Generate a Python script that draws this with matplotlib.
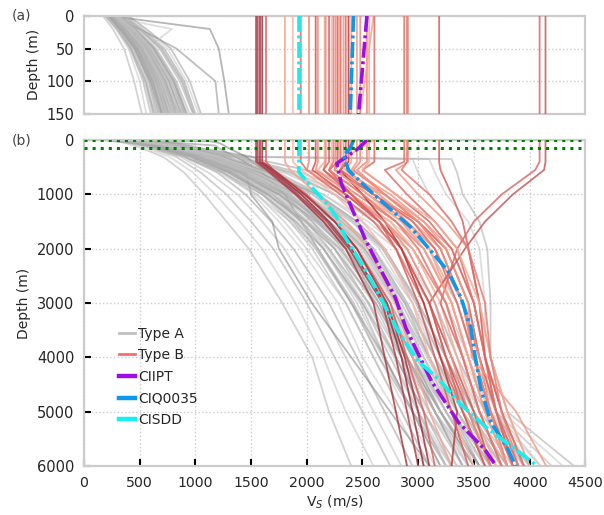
import matplotlib
matplotlib.use("Agg")
import matplotlib.pyplot as plt
from matplotlib.lines import Line2D

# ---------------- data ----------------
# Type A profiles: Vs (m/s) at depths DEPTH_A (m)
DEPTH_A = [0, 20, 50, 100, 150, 300, 350, 600, 1000, 1500, 2000, 3000, 4000, 5000, 6000]
TYPE_A = [
    [170, 260, 360, 450, 520, 700, 740, 900, 1080, 1280, 1480, 1780, 2050, 2200, 2400],
    [190, 290, 400, 500, 560, 760, 800, 980, 1180, 1400, 1600, 1900, 2150, 2350, 2600],
    [200, 310, 420, 530, 600, 820, 860, 1050, 1280, 1500, 1700, 2000, 2250, 2500, 2750],
    [210, 320, 440, 560, 620, 860, 900, 1120, 1380, 1600, 1800, 2100, 2350, 2600, 2850],
    [230, 340, 460, 580, 650, 900, 950, 1200, 1450, 1680, 1880, 2200, 2450, 2700, 2950],
    [220, 330, 470, 600, 700, 950, 1000, 1250, 1520, 1750, 1950, 2280, 2500, 2800, 3050],
    [240, 360, 480, 620, 720, 980, 1030, 1300, 1600, 1850, 2050, 2350, 2600, 2850, 3100],
    [250, 350, 500, 640, 750, 1020, 1070, 1350, 1650, 1900, 2100, 2420, 2650, 2900, 3150],
    [260, 380, 520, 680, 800, 1060, 1100, 1400, 1700, 1950, 2150, 2480, 2700, 2950, 3200],
    [270, 390, 540, 700, 820, 1100, 1150, 1450, 1750, 2000, 2200, 2500, 2750, 3000, 3250],
    [280, 400, 560, 720, 850, 1150, 1200, 1500, 1800, 2050, 2250, 2550, 2800, 3050, 3300],
    [230, 350, 490, 620, 700, 1000, 1050, 1380, 1720, 2000, 2280, 2600, 2850, 3100, 3400],
    [300, 420, 580, 760, 880, 1200, 1250, 1550, 1850, 2100, 2320, 2620, 2880, 3150, 3450],
    [250, 370, 510, 650, 740, 1050, 1100, 1450, 1800, 2150, 2400, 2700, 2950, 3200, 3500],
    [310, 440, 600, 780, 900, 1250, 1300, 1600, 1900, 2200, 2450, 2750, 3000, 3250, 3550],
    [200, 300, 430, 560, 640, 900, 950, 1300, 1650, 1950, 2150, 2450, 2700, 2950, 3300],
    [320, 460, 620, 800, 920, 1280, 1330, 1650, 1980, 2280, 2520, 2820, 3050, 3300, 3600],
    [260, 380, 530, 690, 800, 1100, 1150, 1500, 1850, 2200, 2500, 2850, 3100, 3400, 3700],
    [330, 480, 650, 830, 950, 1300, 1350, 1700, 2050, 2350, 2600, 2900, 3150, 3400, 3750],
    [280, 420, 600, 760, 860, 1200, 1250, 1600, 1950, 2300, 2600, 2950, 3200, 3450, 3800],
    [350, 500, 680, 860, 980, 1350, 1400, 1750, 2100, 2450, 2700, 3000, 3250, 3500, 3850],
    [300, 450, 640, 820, 920, 1280, 1330, 1700, 2150, 2500, 2800, 3100, 3300, 3550, 3950],
    [360, 520, 720, 900, 1000, 1400, 1450, 1850, 2250, 2600, 2900, 3150, 3350, 3600, 4000],
    [380, 540, 750, 920, 1030, 1450, 1500, 1900, 2350, 2700, 3000, 3250, 3400, 3650, 4100],
    [340, 500, 700, 880, 980, 1400, 1450, 1950, 2450, 2800, 3100, 3350, 3500, 3700, 4200],
    [300, 420, 580, 740, 850, 1150, 3100, 3150, 3250, 3450, 3550, 3600, 3600, 3750, 4300],
    [250, 370, 520, 680, 780, 1100, 3300, 3350, 3400, 3550, 3620, 3650, 3650, 3800, 4400],
    [280, 400, 560, 720, 820, 1200, 2950, 3000, 3100, 3300, 3450, 3550, 3600, 3700, 4100],
    [400, 560, 780, 950, 1050, 1500, 1550, 2100, 2700, 3000, 3250, 3450, 3550, 3700, 3950],
    [230, 1130, 1210, 1260, 1300, 1450, 1480, 1650, 1900, 2150, 2350, 2650, 2900, 3150, 3400],
    [220, 500, 830, 1180, 1210, 1350, 1400, 1600, 1800, 1950, 2100, 2400, 2700, 2950, 3200],
    [200, 790, 560, 680, 760, 1050, 1100, 1400, 1700, 1950, 2150, 2500, 2750, 3000, 3300],
    [240, 350, 480, 620, 700, 1000, 1050, 1455, 1500, 1690, 1750, 2045, 2400, 2750, 3100],
    [210, 320, 460, 600, 680, 950, 1000, 1250, 1550, 1800, 2000, 2350, 2600, 2850, 3100],
    [240, 360, 500, 650, 740, 1020, 1070, 1330, 1620, 1880, 2080, 2400, 2650, 2950, 3250],
    [270, 390, 540, 700, 800, 1080, 1130, 1420, 1720, 2000, 2200, 2550, 2800, 3100, 3400],
    [290, 420, 580, 740, 850, 1150, 1200, 1520, 1850, 2150, 2380, 2700, 2950, 3250, 3550],
    [320, 450, 620, 790, 900, 1220, 1270, 1600, 1950, 2250, 2500, 2800, 3050, 3350, 3650],
    [260, 370, 520, 670, 760, 1050, 1100, 1400, 1750, 2050, 2300, 2650, 2900, 3200, 3500],
    [300, 430, 600, 770, 880, 1180, 1230, 1550, 1900, 2200, 2450, 2800, 3100, 3350, 3650],
    [220, 330, 460, 600, 690, 980, 1030, 1350, 1750, 2100, 2350, 2700, 2950, 3200, 3500],
    [260, 380, 530, 680, 780, 1080, 1130, 1480, 1900, 2250, 2500, 2800, 3050, 3300, 3600],
    [290, 410, 570, 730, 830, 1150, 1200, 1560, 2000, 2350, 2600, 2900, 3150, 3400, 3700],
    [240, 350, 490, 630, 720, 1000, 1050, 1400, 1800, 2150, 2420, 2750, 3000, 3300, 3650],
    [310, 450, 620, 800, 900, 1230, 1280, 1650, 2100, 2450, 2700, 3000, 3250, 3500, 3800],
    [270, 400, 560, 720, 820, 1130, 1180, 1520, 1950, 2300, 2550, 2850, 3100, 3350, 3650],
    [200, 300, 420, 550, 630, 900, 950, 1250, 1600, 1900, 2150, 2500, 2800, 3050, 3350],
    [250, 360, 500, 650, 740, 1030, 1080, 1380, 1700, 2000, 2250, 2600, 2850, 3100, 3450],
    [280, 400, 550, 710, 810, 1120, 1170, 1480, 1820, 2120, 2380, 2720, 2980, 3250, 3550],
    [330, 470, 640, 820, 930, 1260, 1310, 1680, 2150, 2550, 2850, 3150, 3350, 3550, 3900],
    [230, 340, 470, 610, 700, 980, 1030, 1330, 1680, 2000, 2300, 2650, 2850, 3000, 3250],
    [260, 370, 520, 670, 770, 1060, 1110, 1430, 1780, 2080, 2350, 2680, 2900, 3150, 3400],
    [300, 430, 590, 760, 870, 1190, 1240, 1580, 1980, 2320, 2580, 2880, 3100, 3300, 3550],
    [210, 310, 440, 580, 660, 930, 980, 1280, 1620, 1920, 2180, 2520, 2780, 3000, 3250],
    [350, 500, 690, 880, 990, 1360, 1410, 1800, 2250, 2650, 2950, 3250, 3450, 3650, 3950],
    [240, 360, 500, 640, 730, 1010, 1060, 1360, 1700, 2020, 2300, 2650, 2950, 3250, 3600],
    [280, 410, 570, 730, 830, 1150, 1200, 1530, 1900, 2250, 2520, 2880, 3150, 3450, 3800],
    [190, 290, 410, 540, 620, 880, 930, 1220, 1550, 1850, 2100, 2420, 2680, 2950, 3250],
    [320, 460, 630, 810, 920, 1250, 1300, 1660, 2080, 2420, 2680, 2980, 3200, 3450, 3750],
    [270, 390, 540, 700, 800, 1100, 1150, 1470, 1850, 2180, 2450, 2780, 3000, 3200, 3450],
    [230, 350, 480, 620, 710, 990, 1040, 1340, 1660, 1950, 2200, 2560, 2850, 3150, 3500],
    [300, 440, 600, 780, 880, 1210, 1260, 1620, 2050, 2400, 2650, 2950, 3150, 3350, 3650],
    [250, 370, 510, 660, 760, 1040, 1090, 1420, 1800, 2120, 2380, 2720, 2950, 3150, 3400],
    [360, 510, 700, 890, 1000, 1380, 1430, 1850, 2350, 2750, 3050, 3350, 3500, 3700, 4000],
    [220, 320, 450, 590, 670, 950, 1000, 1300, 1650, 1980, 2250, 2620, 2900, 3200, 3550],
    [290, 420, 580, 750, 850, 1170, 1220, 1550, 1950, 2280, 2550, 2900, 3150, 3400, 3700],
    [260, 380, 530, 690, 790, 1090, 1140, 1460, 1830, 2150, 2420, 2750, 3000, 3300, 3650],
    [310, 450, 610, 790, 890, 1220, 1270, 1640, 2050, 2400, 2680, 3000, 3250, 3450, 3750],
    [240, 350, 490, 640, 730, 1010, 1060, 1390, 1760, 2080, 2350, 2700, 2950, 3200, 3500],
    [280, 400, 560, 720, 820, 1130, 1180, 1510, 1880, 2200, 2470, 2820, 3080, 3350, 3700],
]

# Type B profiles: Vs (m/s) at depths DEPTH_B (m)
DEPTH_B = [0, 400, 550, 1000, 1500, 2000, 3000, 4000, 5000, 6000]
TYPE_B = [
    [1545, 1545, 1640, 1900, 2150, 2350, 2600, 2700, 2800, 2900],
    [1560, 1560, 1660, 1920, 2180, 2380, 2680, 2800, 2900, 3000],
    [1580, 1580, 1680, 1950, 2200, 2400, 2700, 2850, 2950, 3050],
    [1634, 1634, 1700, 2000, 2250, 2450, 2750, 2900, 3050, 3150],
    [1804, 1804, 1850, 2100, 2350, 2550, 2800, 2950, 3100, 3300],
    [1875, 1875, 1950, 2250, 2500, 2700, 2950, 3100, 3300, 3500],
    [1946, 1946, 2000, 2300, 2600, 2800, 3050, 3200, 3400, 3600],
    [2020, 2020, 2000, 2350, 2700, 2950, 3250, 3400, 3550, 3750],
    [2080, 2080, 2050, 2350, 2650, 2850, 3100, 3250, 3450, 3650],
    [2160, 2160, 2100, 2400, 2750, 2950, 3200, 3350, 3500, 3700],
    [2170, 2170, 2150, 2450, 2800, 3050, 3300, 3450, 3600, 3800],
    [2223, 2223, 2200, 2500, 2850, 3100, 3350, 3500, 3650, 3850],
    [2259, 2259, 2250, 2550, 2900, 3150, 3400, 3550, 3700, 3900],
    [2277, 2277, 2200, 2400, 2650, 2850, 3100, 3250, 3400, 3600],
    [2304, 2304, 2250, 2600, 3000, 3250, 3450, 3550, 3700, 3850],
    [2330, 2330, 2300, 2700, 3050, 3300, 3500, 3600, 3750, 3900],
    [2375, 2375, 2300, 2500, 2700, 2850, 3050, 3200, 3350, 3300],
    [2400, 2400, 2350, 2650, 2950, 3200, 3400, 3500, 3650, 3850],
    [2450, 2450, 2400, 2750, 3050, 3250, 3450, 3480, 3880, 4150],
    [2540, 2540, 2450, 2700, 3000, 3200, 3400, 3550, 3650, 3800],
    [2600, 2280, 2350, 2650, 2900, 3100, 3300, 3450, 3600, 3800],
    [2607, 2607, 2500, 2800, 3100, 3300, 3500, 3600, 3700, 3850],
    [2875, 2875, 2700, 2900, 3150, 3350, 3500, 3600, 3700, 3900],
    [2910, 2910, 2800, 3000, 3250, 3450, 3550, 3650, 3800, 4000],
    [3188, 3188, 3200, 3300, 3400, 3450, 3550, 3600, 3750, 3950],
    [4090, 4090, 4050, 3750, 3500, 3350, 3200, 3400, 3550, 3750],
    [4143, 4143, 4130, 3850, 3600, 3420, 3100, 3300, 3500, 3650],
    [2100, 2100, 2080, 2400, 2700, 2900, 3150, 3300, 3450, 3650],
    [2240, 2240, 2200, 2500, 2800, 3000, 3250, 3400, 3550, 3750],
    [2290, 2290, 2250, 2550, 2850, 3050, 3300, 3450, 3600, 3800],
    [2350, 2350, 2300, 2600, 2950, 3150, 3350, 3500, 3650, 3850],
    [2480, 2480, 2420, 2700, 3000, 3200, 3400, 3500, 3650, 3800],
    [2560, 2560, 2500, 2800, 3150, 3350, 3550, 3650, 3800, 4000],
    [2900, 2900, 2850, 3100, 3300, 3450, 3600, 3650, 3750, 3950],
    [1600, 1600, 1700, 1980, 2250, 2450, 2720, 2880, 3000, 3100],
    [2200, 2200, 2150, 2400, 2650, 2800, 3000, 3150, 3300, 3450],
]

# highlighted sites
CIIPT_DEPTH = [0, 150, 430, 800, 1330, 1850, 2410, 2900, 3460, 4440, 5190, 5700, 6000]
CIIPT_VS = [2540, 2465, 2270, 2310, 2420, 2530, 2670, 2795, 2890, 3120, 3360, 3600, 3700]
CIQ0035_DEPTH = [0, 150, 280, 555, 960, 1350, 1610, 1980, 2410, 2900, 3460, 3950, 4570, 5190, 5680, 6000]
CIQ0035_VS = [2420, 2390, 2330, 2375, 2580, 2795, 2937, 3089, 3268, 3384, 3473, 3509, 3562, 3652, 3804, 3875]
CISDD_DEPTH = [0, 280, 590, 870, 1150, 1420, 1800, 2280, 2720, 3280, 3520, 4070, 4390, 4870, 5310, 5680, 6000]
CISDD_VS = [1930, 1930, 1930, 2045, 2170, 2268, 2348, 2491, 2616, 2759, 2821, 3000, 3179, 3384, 3625, 3866, 4071]

LEGEND_LABELS = ["Type A", "Type B", "CIIPT", "CIQ0035", "CISDD"]
REF_DEPTHS = [0, 150]

# ---------------- styles ----------------
A_SHADES = ["#b0b0b0", "#c4c4c4", "#a8a8a8", "#bdbdbd", "#9c9c9c", "#c8c8c8"]
A_DARK = {29: "#7a7a7a", 30: "#8a8a8a", 32: "#808080"}
B_COLORS = ["#a83c46", "#b0404a", "#9c3040", "#e06060", "#f5a58f", "#f8b8a8", "#e36b62",
            "#f08a78", "#d9534f", "#f6ad98", "#ef8877", "#f7b6a3", "#ee8a7a", "#dd5f5a",
            "#e26660", "#f29585", "#b83a3a", "#f4a08c", "#f39a86", "#ef8c7c", "#f6a68e",
            "#e06a64", "#e0706a", "#f29a88", "#dc6060", "#d86a6a", "#c85a5a",
            "#f09080", "#e87a70", "#f4a28e", "#e06a64", "#f08a7a", "#f6ab96", "#e57a72",
            "#a63440", "#d46060"]

TEXT = "#262626"
plt.rcParams.update({
    "font.family": "DejaVu Sans",
    "font.size": 10,
    "text.color": TEXT,
    "axes.labelcolor": TEXT,
    "xtick.color": "black",
    "ytick.color": "black",
    "xtick.labelcolor": TEXT,
    "ytick.labelcolor": TEXT,
    "xtick.labelsize": 10.2,
    "ytick.labelsize": 10.5,
})

fig = plt.figure(figsize=(6.04, 5.15), dpi=100)
ax_a = fig.add_axes([0.139, 0.779, 0.830, 0.190])
ax_b = fig.add_axes([0.139, 0.095, 0.830, 0.633])

for ax in (ax_a, ax_b):
    for i, prof in enumerate(TYPE_A):
        col = A_DARK.get(i, A_SHADES[i % len(A_SHADES)])
        ax.plot(prof, DEPTH_A, color=col, lw=1.3, alpha=0.55, zorder=2)
    for i, prof in enumerate(TYPE_B):
        ax.plot(prof, DEPTH_B, color=B_COLORS[i % len(B_COLORS)], lw=1.3, alpha=0.85, zorder=3)
    dd = (0, (4.4, 1.0, 0.8, 1.0))
    ax.plot(CIIPT_VS, CIIPT_DEPTH, color="#9a0fe6", lw=2.6, ls=dd, zorder=5)
    ax.plot(CIQ0035_VS, CIQ0035_DEPTH, color="#0d98ee", lw=2.6, ls=dd, zorder=5)
    ax.plot(CISDD_VS, CISDD_DEPTH, color="#12f0f0", lw=2.6, ls=dd, zorder=5)
    ax.set_xlim(0, 4500)
    for s in ax.spines.values():
        s.set_color("#cccccc")
        s.set_linewidth(1.6)
    ax.tick_params(direction="in", length=5, width=1.5, pad=7)
    ax.set_axisbelow(True)

for d in REF_DEPTHS:
    ax_b.axhline(d, color="#008000", ls=":", lw=2.2, zorder=6)

# panel (a)
ax_a.set_ylim(150, 0)
ax_a.set_yticks([0, 50, 100, 150])
ax_a.set_xticks([])
ax_a.yaxis.grid(True, ls=":", color="#cccccc", lw=1.0)
ax_a.set_ylabel("Depth (m)", fontsize=10)

# panel (b)
ax_b.set_ylim(6000, 0)
ax_b.set_yticks(range(0, 6001, 1000))
ax_b.set_xticks(range(0, 4501, 500))
ax_b.grid(True, ls=":", color="#cccccc", lw=1.0)
ax_b.set_ylabel("Depth (m)", fontsize=10)
ax_b.set_xlabel("V$_S$ (m/s)", fontsize=10, labelpad=3)

handles = [
    Line2D([], [], color="#c0c0c0", lw=2),
    Line2D([], [], color="#f07070", lw=2),
    Line2D([], [], color="#9a0fe6", lw=3.2),
    Line2D([], [], color="#0d98ee", lw=3.2),
    Line2D([], [], color="#12f0f0", lw=3.2),
]
ax_b.legend(handles, LEGEND_LABELS, loc="upper left", bbox_to_anchor=(0.058, 0.445),
            frameon=False, handlelength=1.2, handletextpad=0.2, labelspacing=0.55,
            borderaxespad=0, fontsize=10)

fig.text(0.02, 0.969, "(a)", va="center", ha="left", fontsize=10, color="#444444")
fig.text(0.02, 0.728, "(b)", va="center", ha="left", fontsize=10, color="#444444")

fig.savefig("out.png", dpi=100)
